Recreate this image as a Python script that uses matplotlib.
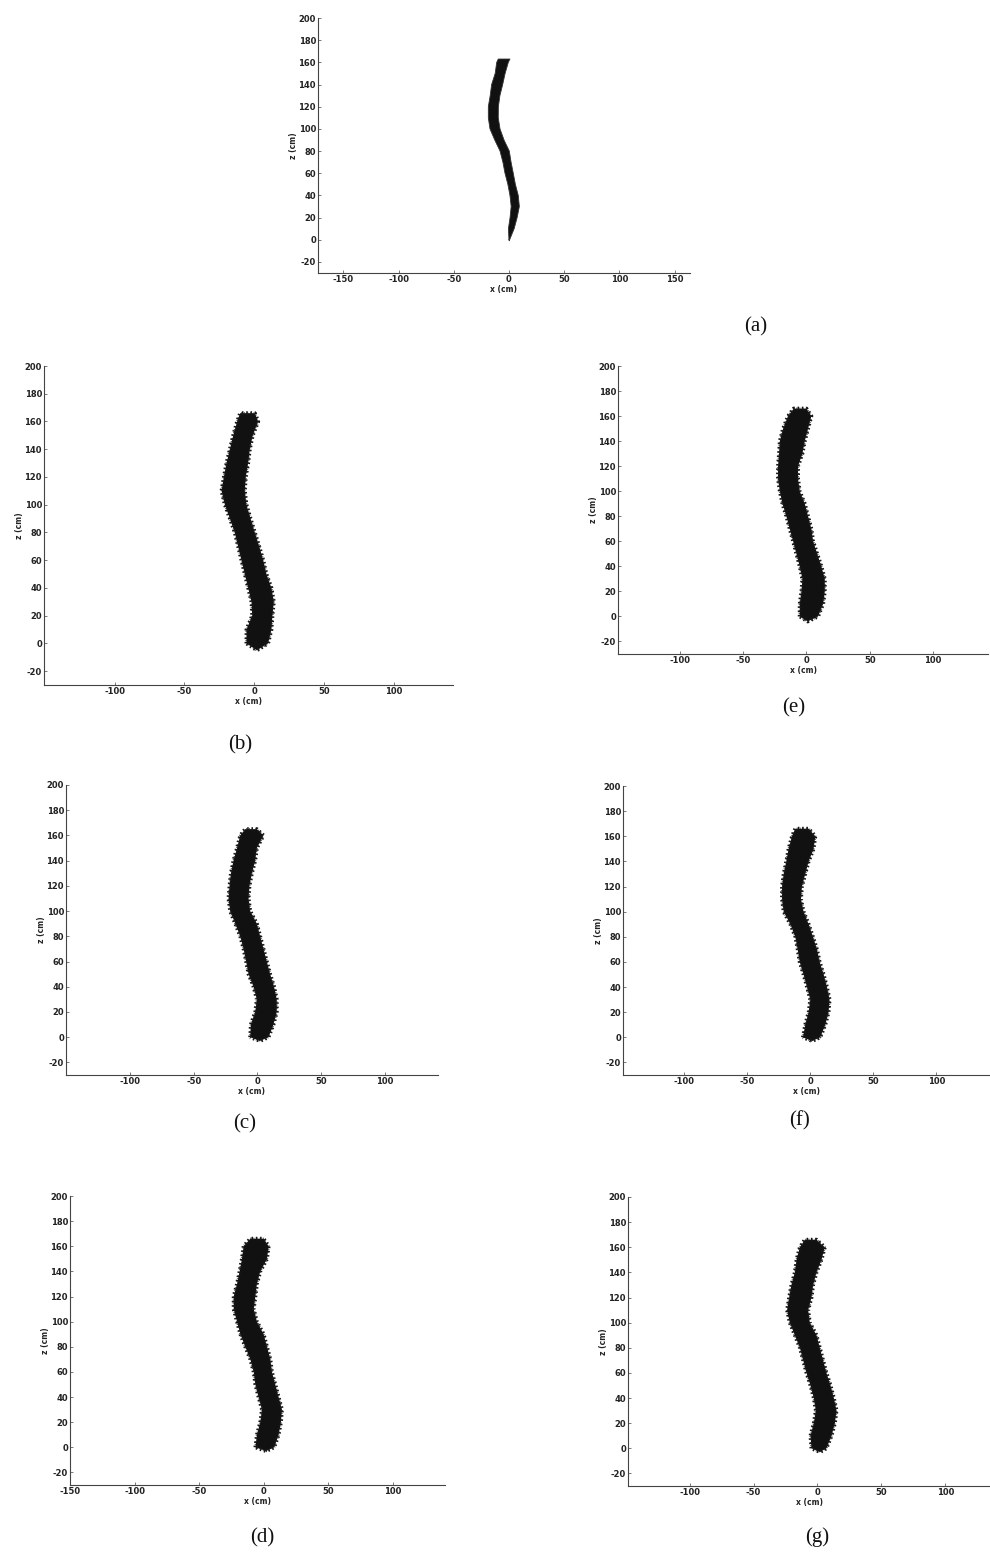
import matplotlib
matplotlib.use("Agg")
import matplotlib.pyplot as plt

plt.rcParams["axes.unicode_minus"] = False

W, H = 990, 1558

# heights where the band edges were read (cm)
z_levels = [0, 10, 20, 30, 40, 50, 60, 70, 80, 90, 100, 110, 120, 130, 140, 150, 160]

# (a) original trajectory
a_left = [0.0, -0.5, 1.0, 2.0, 0.9, -1.0, -3.6, -5.5, -8.1, -12.9, -17.2, -18.7, -18.7, -17.0, -15.7, -12.5, -11.1]
a_right = [0.6, 4.7, 7.4, 9.4, 8.4, 5.8, 3.9, 1.9, 0.3, -4.5, -8.1, -9.7, -9.6, -8.2, -5.7, -3.5, -0.6]
a_top = (-9.7, 0.9, 163)
a_bottom = (0.3, -1)

# (b) .. (g) noisy reconstructions
b_left = [-5.5, -5.5, -1.4, -1.9, -4.3, -6.7, -9.1, -11.5, -13.9, -17.4, -21.0, -23.4, -21.7, -19.8, -17.4, -15.0, -12.2]
b_right = [10.0, 12.4, 13.1, 14.1, 12.4, 8.8, 6.5, 3.6, 0.5, -2.6, -5.5, -6.7, -6.0, -4.3, -3.1, -1.0, 2.9]
b_top = (-10.0, 0.5, 166)
b_bottom = (2.0, -5)

c_left = [-5.7, -5.2, -1.8, -0.5, -3.1, -7.0, -8.9, -10.9, -13.5, -17.4, -21.4, -22.7, -21.9, -20.8, -18.8, -16.0, -13.5]
c_right = [8.6, 12.5, 15.1, 15.1, 13.0, 9.9, 7.3, 4.7, 2.1, -0.5, -5.7, -7.0, -6.3, -4.4, -1.8, -0.5, 4.7]
c_top = (-9.6, -0.5, 165)
c_bottom = (2.0, -3)

d_left = [-6.4, -5.2, -2.6, -1.3, -3.9, -6.4, -7.7, -10.3, -14.2, -18.0, -20.6, -23.2, -23.2, -20.6, -18.6, -16.8, -15.5]
d_right = [8.2, 11.6, 13.4, 14.2, 11.6, 9.0, 6.4, 5.2, 2.6, 0.0, -5.2, -7.7, -6.4, -5.2, -2.6, 2.6, 3.9]
d_top = (-10.3, 0.0, 166)
d_bottom = (2.0, -3)

e_left = [-5.3, -5.3, -3.9, -3.2, -5.3, -7.9, -10.5, -13.2, -15.8, -18.9, -21.0, -22.4, -22.4, -21.6, -21.0, -18.4, -14.5]
e_right = [9.2, 13.2, 14.5, 14.5, 11.8, 8.5, 5.3, 3.9, 1.3, -1.3, -5.3, -6.6, -6.6, -3.2, -1.3, 1.3, 3.9]
e_top = (-10.0, 0.0, 166)
e_bottom = (1.0, -4)

f_left = [-5.8, -4.0, -1.3, 0.0, -2.6, -5.3, -8.4, -10.0, -11.9, -15.8, -21.1, -22.4, -22.4, -21.1, -19.0, -17.2, -14.5]
f_right = [7.9, 11.9, 14.5, 15.3, 13.2, 10.6, 7.4, 5.3, 2.1, -1.3, -5.3, -7.4, -6.6, -4.0, -1.3, 2.6, 4.0]
f_top = (-11.9, -1.3, 166)
f_bottom = (1.5, -3)

g_left = [-4.7, -5.5, -2.9, -1.3, -2.9, -5.5, -8.6, -11.2, -13.8, -17.7, -21.7, -23.8, -22.2, -20.4, -17.7, -16.4, -13.8]
g_right = [7.0, 11.0, 13.6, 14.9, 12.8, 10.2, 7.0, 4.4, 1.8, -0.8, -6.0, -7.3, -4.7, -3.4, -0.8, 3.1, 5.7]
g_top = (-9.9, -0.8, 166)
g_bottom = (2.0, -3)

y_ticks = [-20, 0, 20, 40, 60, 80, 100, 120, 140, 160, 180, 200]
x_ticks_a = [-150, -100, -50, 0, 50, 100, 150]
x_ticks_d = [-150, -100, -50, 0, 50, 100]
x_ticks = [-100, -50, 0, 50, 100]

fig = plt.figure(figsize=(W / 100, H / 100), dpi=100)
fig.patch.set_facecolor("white")


def band(ax, left, right, top, bottom, fuzzy):
    xs = list(left) + [top[0], top[1]] + list(right[::-1]) + [bottom[0]]
    zs = list(z_levels) + [top[2], top[2]] + list(z_levels[::-1]) + [bottom[1]]
    ax.fill(xs, zs, color="#111111", lw=0)
    if fuzzy:
        # jagged fringe round the band
        ax.plot(xs + [xs[0]], zs + [zs[0]], color="#151515", lw=2.8,
                ls=(0, (0.4, 0.7)), solid_capstyle="round")
        ax.plot(xs + [xs[0]], zs + [zs[0]], color="#202020", lw=1.6,
                ls=(0.3, (0.3, 1.1)))
    else:
        ax.plot(xs + [xs[0]], zs + [zs[0]], color="#333333", lw=0.6)


def panel(px, xlim, xt, left, right, top, bottom, label, label_xy, fuzzy=True):
    l, t, r, b = px
    ax = fig.add_axes([l / W, 1 - b / H, (r - l) / W, (b - t) / H])
    band(ax, left, right, top, bottom, fuzzy)
    ax.set_xlim(*xlim)
    ax.set_ylim(-30, 200)
    ax.set_xticks(xt)
    ax.set_yticks(y_ticks)
    for s in ["top", "right"]:
        ax.spines[s].set_visible(False)
    for s in ["left", "bottom"]:
        ax.spines[s].set_color("#444444")
        ax.spines[s].set_linewidth(0.8)
    ax.tick_params(direction="in", length=2.5, width=0.5, colors="#444444",
                   labelsize=6, pad=1.5, labelcolor="#222222")
    for tl in ax.get_xticklabels() + ax.get_yticklabels():
        tl.set_fontweight("bold")
    ax.set_xlabel("x (cm)", fontsize=5.5, labelpad=0.5, color="#222222", fontweight="bold")
    ax.set_ylabel("z (cm)", fontsize=5.5, labelpad=0.5, color="#222222", fontweight="bold")
    fig.text(label_xy[0] / W, 1 - label_xy[1] / H, label, ha="center", va="center",
             fontsize=15, family="Liberation Serif", color="#111111")
    return ax


panel((318, 18, 690, 273), (-173, 164), x_ticks_a, a_left, a_right, a_top, a_bottom,
      "(a)", (756, 327), fuzzy=False)
panel((44, 366, 453, 685), (-150.7, 142.6), x_ticks, b_left, b_right, b_top, b_bottom,
      "(b)", (240, 745))
panel((66, 785, 438, 1075), (-150, 141.4), x_ticks, c_left, c_right, c_top, c_bottom,
      "(c)", (245, 1124))
panel((70, 1196, 445, 1485), (-150, 140.5), x_ticks_d, d_left, d_right, d_top, d_bottom,
      "(d)", (262, 1538))
panel((618, 366, 988, 654), (-148.7, 143.3), x_ticks, e_left, e_right, e_top, e_bottom,
      "(e)", (794, 708))
panel((623, 786, 990, 1075), (-148.5, 142.5), x_ticks, f_left, f_right, f_top, f_bottom,
      "(f)", (800, 1121))
panel((628, 1197, 990, 1486), (-148.3, 135.0), x_ticks, g_left, g_right, g_top, g_bottom,
      "(g)", (817, 1537))

fig.savefig("out.png", dpi=100, facecolor="white")
